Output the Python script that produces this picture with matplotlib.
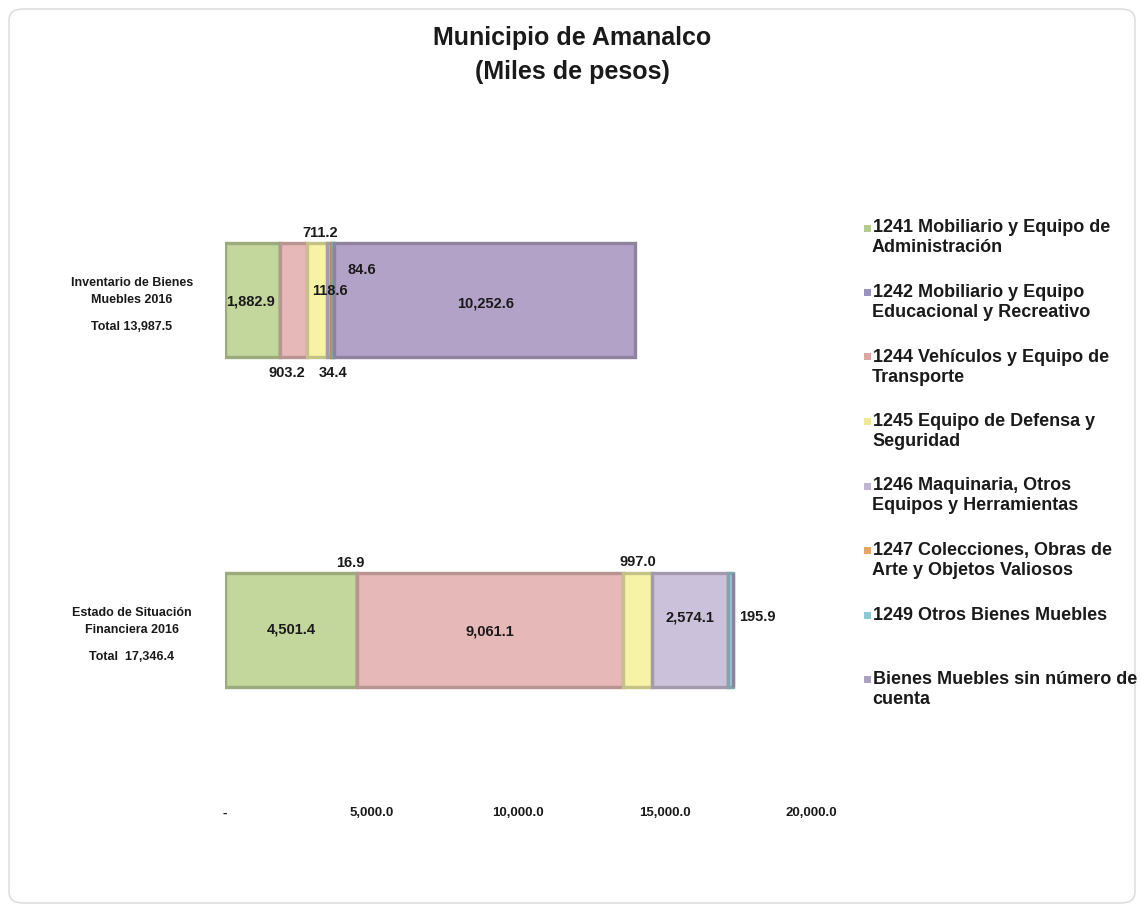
import matplotlib
matplotlib.use("Agg")
import matplotlib.pyplot as plt
import matplotlib.transforms as mtransforms
from matplotlib.patches import FancyBboxPatch, Rectangle
import matplotlib.colors as mcolors

plt.rcParams['font.family'] = ['Liberation Sans', 'DejaVu Sans']
plt.rcParams['font.weight'] = 'bold'

# ---------------- data ----------------
title = "Municipio de Amanalco\n(Miles de pesos)"
categories = [["Estado de Situación", "Financiera 2016"], ["Inventario de Bienes", "Muebles 2016"]]
totals = ["Total  17,346.4", "Total 13,987.5"]

series_names = ["1241", "1242", "1244", "1245", "1246", "1247", "1249", "sin"]
v1241 = [4501.4, 1882.9]
v1242 = [16.9, 0.0]
v1244 = [9061.1, 903.2]
v1245 = [997.0, 711.2]
v1246 = [2574.1, 118.6]
v1247 = [0.0, 34.4]
v1249 = [195.9, 84.6]
vsin = [0.0, 10252.6]
series_values = [v1241, v1242, v1244, v1245, v1246, v1247, v1249, vsin]

legend_labels = [
    ["1241 Mobiliario y Equipo de", "Administración"],
    ["1242 Mobiliario y Equipo", "Educacional y Recreativo"],
    ["1244 Vehículos y Equipo de", "Transporte"],
    ["1245 Equipo de Defensa y", "Seguridad"],
    ["1246 Maquinaria, Otros", "Equipos y Herramientas"],
    ["1247 Colecciones, Obras de", "Arte y Objetos Valiosos"],
    ["1249 Otros Bienes Muebles"],
    ["Bienes Muebles sin número de", "cuenta"],
]

xticks = [0, 5000, 10000, 15000, 20000]
xticklabels = ["-", "5,000.0", "10,000.0", "15,000.0", "20,000.0"]

# ---------------- styles ----------------
colors = ["#C3D69B", "#8E86B8", "#E6B9B8", "#F6F2A6", "#CCC1DA", "#EDA868", "#9ECFDC", "#B3A2C7"]
legend_marker_colors = ["#B5CC8C", "#9A92C0", "#DDA5A4", "#EEE896", "#C0B4D2", "#E8A463", "#8DC8D8", "#ADA0C5"]

# label offsets in pixels (dx, dy) from segment centre, per category
label_offsets = {
    (0, 0): (0, 0), (1, 0): (-7, 67), (2, 0): (0, -2), (3, 0): (0, 68),
    (4, 0): (0, 13), (6, 0): (27, 13),
    (0, 1): (-2, -1), (2, 1): (-7, -73), (3, 1): (3, 67), (4, 1): (1, 9),
    (5, 1): (2, -73), (6, 1): (29, 30), (7, 1): (1, -3),
}

W, H = 1145, 907
fig = plt.figure(figsize=(W / 100, H / 100), dpi=100)
fig.patch.set_facecolor("white")

# rounded border
border = FancyBboxPatch((9 / W, 4 / H), (W - 19) / W, (H - 13) / H,
                        boxstyle="round,pad=0,rounding_size=0.012",
                        transform=fig.transFigure, facecolor="none",
                        edgecolor="#D9D9D9", linewidth=1.0, zorder=-5)
fig.patches.append(border)

ax_left, ax_right, ax_top, ax_bottom = 225, 811, 135, 795
ax = fig.add_axes([ax_left / W, 1 - ax_bottom / H, (ax_right - ax_left) / W, (ax_bottom - ax_top) / H])
ax.set_facecolor("none")
ax.set_xlim(0, 20000)
ax.set_ylim(-0.5, 1.5)

ypos = list(range(len(categories)))
bar_h = 0.345
left = [0.0] * len(categories)
for si, vals in enumerate(series_values):
    base = mcolors.to_rgb(colors[si])
    edge = tuple(c * 0.80 for c in base)
    ax.barh(ypos, vals, left=left, height=bar_h, color=colors[si],
            edgecolor=edge, linewidth=2.4, zorder=2)
    for ci, v in enumerate(vals):
        if v > 0 and (si, ci) in label_offsets:
            dx, dy = label_offsets[(si, ci)]
            ax.annotate(f"{v:,.1f}", xy=(left[ci] + v / 2, ypos[ci]),
                        xytext=(dx, dy), textcoords="offset pixels",
                        ha="center", va="center", fontsize=10.5,
                        fontweight="bold", color="#1a1a1a", zorder=5,
                        annotation_clip=False)
    left = [l + v for l, v in zip(left, vals)]

# axes styling
for s in ax.spines.values():
    s.set_visible(False)
ax.set_yticks([])
ax.set_xticks(xticks)
ax.set_xticklabels(xticklabels, fontsize=9.5, fontweight="bold", color="#1a1a1a")
ax.tick_params(axis="x", length=0, pad=9)

# category labels
trans = mtransforms.blended_transform_factory(ax.transAxes, ax.transData)
for ci, (name_lines, tot) in enumerate(zip(categories, totals)):
    for li, line in enumerate(name_lines):
        ax.annotate(line, xy=(-0.1587, ypos[ci]), xycoords=trans,
                    xytext=(0, 17 - 17 * li), textcoords="offset pixels",
                    ha="center", va="center", fontsize=9, fontweight="bold",
                    color="#1a1a1a", annotation_clip=False)
    ax.annotate(tot, xy=(-0.1587, ypos[ci]), xycoords=trans,
                xytext=(0, -27), textcoords="offset pixels",
                ha="center", va="center", fontsize=9, fontweight="bold",
                color="#1a1a1a", annotation_clip=False)

# title
fig.text(572 / W, 1 - 38 / H, "Municipio de Amanalco", ha="center", va="center",
         fontsize=18, fontweight="bold", color="#1a1a1a")
fig.text(572 / W, 1 - 72 / H, "(Miles de pesos)", ha="center", va="center",
         fontsize=18, fontweight="bold", color="#1a1a1a")

# legend (manual)
leg_y0, leg_step, line_gap = 228, 64.5, 20
for i, lines in enumerate(legend_labels):
    y = leg_y0 + i * leg_step
    fig.patches.append(Rectangle((864 / W, 1 - (y + 3.5) / H), 7 / W, 7 / H,
                                 transform=fig.transFigure,
                                 facecolor=legend_marker_colors[i],
                                 edgecolor="none", zorder=3))
    for li, line in enumerate(lines):
        fig.text((873 if li == 0 else 872) / W, 1 - (y + li * line_gap) / H, line,
                 ha="left", va="center", fontsize=13, fontweight="bold",
                 color="#1a1a1a")

fig.savefig("out.png", dpi=100, facecolor="white")
